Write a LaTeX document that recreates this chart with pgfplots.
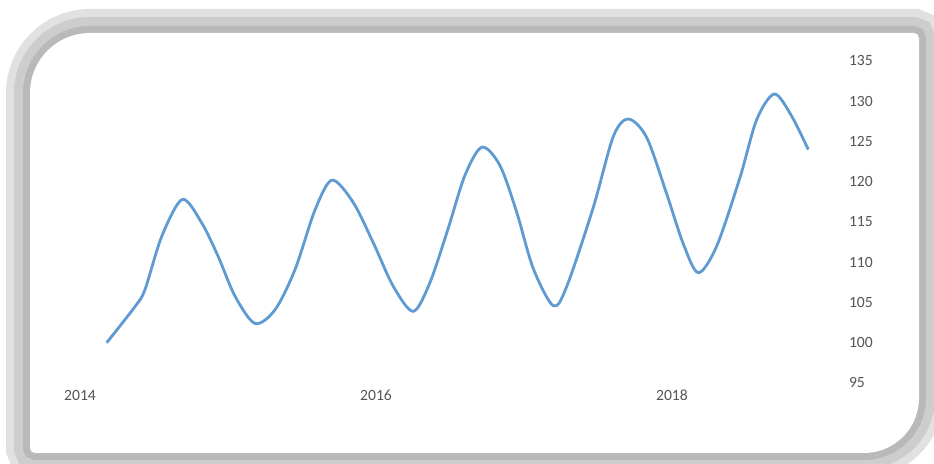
\documentclass[border=0pt]{standalone}
\usepackage{fontspec}
\setmainfont{Carlito}
\usepackage{pgfplots}
\pgfplotsset{compat=1.18}
\definecolor{linec}{RGB}{95,155,210}
\definecolor{labc}{RGB}{85,85,85}
\definecolor{band1}{RGB}{225,225,225}
\definecolor{band2}{RGB}{205,205,205}
\definecolor{band3}{RGB}{185,185,185}
\begin{document}
\begin{tikzpicture}[x=1pt,y=1pt]
\useasboundingbox (0,0) rectangle (467,232);
\fill[white] (0,0) rectangle (467,232);
\def\innerpath{(45,215.5) -- (457,215.5) arc[start angle=90, end angle=0, radius=2.5] -- (459.5,33) arc[start angle=0, end angle=-90, radius=27.5] -- (17.5,5.5) arc[start angle=270, end angle=180, radius=2.5] -- (15,185.5) arc[start angle=180, end angle=90, radius=30] -- cycle}
\draw[band1, line width=24pt] \innerpath;
\draw[band2, line width=16pt] \innerpath;
\draw[band3, line width=7pt] \innerpath;
\fill[white] \innerpath;
\begin{axis}[
  at={(40pt,40.5pt)}, anchor=south west,
  scale only axis, width=370pt, height=161pt,
  xmin=2014, xmax=2019, ymin=95, ymax=135,
  axis line style={draw=none},
  clip=false,
  xtick={2014,2016,2018},
  ytick={95,100,...,135},
  xticklabels={2014,2016,2018},
  yticklabel pos=right,
  major tick length=0pt,
  tick style={draw=none},
  /pgf/number format/assume math mode=true,
  /pgf/number format/1000 sep={},
  ticklabel style={font=\fontsize{7.8}{9}\selectfont, text=labc},
  yticklabel style={anchor=west, xshift=11pt},
  xticklabel style={anchor=north},
]
\addplot[linec, line width=1.4pt, smooth] table {
x y
2014.180 100.0
2014.372 104.5
2014.439 106.6
2014.552 113.2
2014.691 117.8
2014.822 114.9
2014.934 110.7
2015.047 105.8
2015.182 102.4
2015.318 104.1
2015.453 109.1
2015.588 116.5
2015.703 120.2
2015.847 117.4
2015.982 112.4
2016.117 107.0
2016.252 103.9
2016.365 107.5
2016.486 114.1
2016.601 120.8
2016.716 124.3
2016.838 122.0
2016.951 116.2
2017.063 109.2
2017.198 104.6
2017.289 107.0
2017.468 116.8
2017.603 125.6
2017.705 127.8
2017.829 125.5
2017.964 118.5
2018.076 112.3
2018.178 108.7
2018.302 112.0
2018.459 120.5
2018.572 127.7
2018.691 130.9
2018.804 128.3
2018.921 124.0
};
\end{axis}
\end{tikzpicture}
\end{document}
